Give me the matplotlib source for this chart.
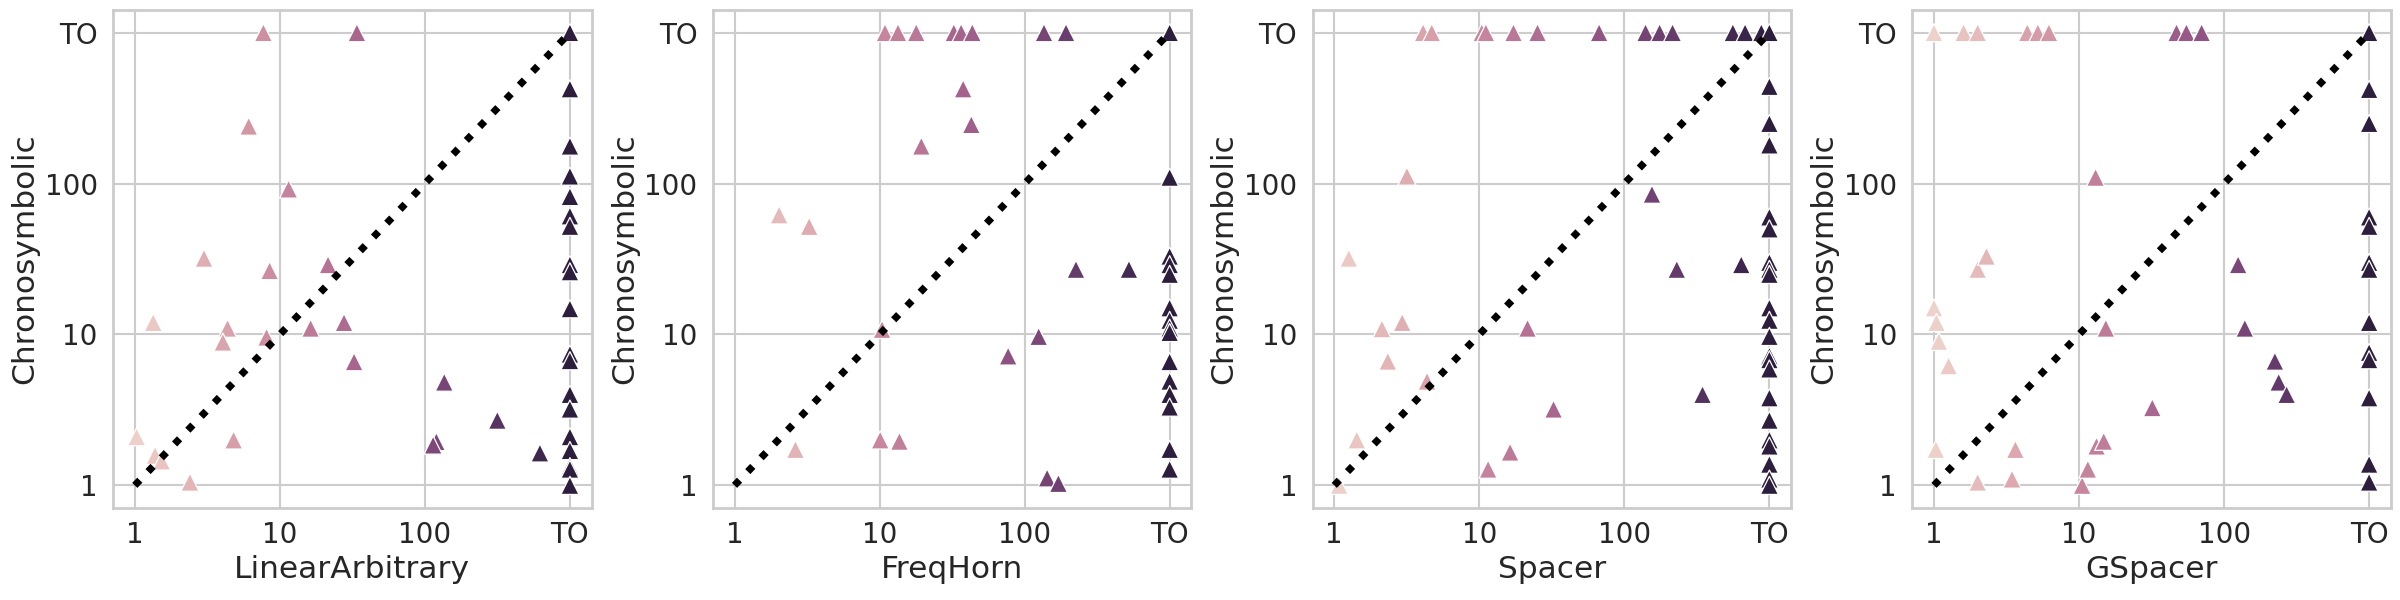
import numpy as np
import seaborn as sns
from matplotlib import pyplot as plt
from matplotlib.colors import Normalize
from matplotlib.ticker import FixedLocator, FixedFormatter, NullLocator

sns.set_theme(style="whitegrid")
plt.rcParams['font.family'] = ['DejaVu Sans']

TO = 1000  # timeout, drawn as "TO" on both axes

tools = ["LinearArbitrary", "FreqHorn", "Spacer", "GSpacer"]
tick_values = [1, 10, 100, TO]
tick_labels = ["1", "10", "100", "TO"]

# LinearArbitrary vs Chronosymbolic (seconds)
la_x = [7.7, 34, 6.1, 11.5, 3.0, 8.5, 21.5, 1.34, 4.36, 16.3, 27.7, 4.05, 8.1, 32.5,
        136, 316, 120, 114, 621, 1.03, 1.38, 1.53, 4.8, 2.4]
la_y = [TO, TO, 240, 92, 32, 26.5, 29, 12, 11, 11, 12, 8.9, 9.6, 6.6,
        4.83, 2.7, 1.95, 1.85, 1.64, 2.1, 1.58, 1.45, 2.0, 1.05]
la_to = [TO, 424, 177, 112, 82, 61, 52, 29, 26, 14.8, 7.4, 6.7, 4.0, 3.2, 2.1, 1.7, 1.33, 1.28, 1.0]

# FreqHorn vs Chronosymbolic
fh_x = [2.03, 3.27, 10.9, 13.4, 17.9, 32.5, 36.5, 43.6, 136, 193, 37.7, 42.9, 19.4,
        226, 524, 10.4, 77, 125, 2.63, 10.1, 13.7, 143, 171]
fh_y = [62, 52, TO, TO, TO, TO, TO, TO, TO, TO, 424, 246, 177,
        27, 27, 10.8, 7.2, 9.7, 1.73, 2.0, 1.96, 1.12, 1.03]
fh_to = [TO, 110, 33, 29, 25, 15, 12.4, 11, 10.3, 6.6, 4.9, 4.0, 3.3, 1.73, 1.28]

# Spacer vs Chronosymbolic
sp_x = [4.1, 4.7, 10.4, 11.1, 17.2, 25.2, 67, 140, 175, 215, 560, 680, 880,
        3.17, 1.26, 2.13, 2.94, 21.5, 2.34, 4.36, 32.5, 346, 1.43, 1.08, 11.5, 16.3,
        155, 230, 640]
sp_y = [TO, TO, TO, TO, TO, TO, TO, TO, TO, TO, TO, TO, TO,
        112, 32, 10.9, 12, 11, 6.65, 4.9, 3.2, 4.0, 2.0, 1.0, 1.28, 1.66,
        85, 27, 29]
sp_to = [TO, 440, 250, 180, 60, 50, 30, 27, 25, 15, 12.4, 9.7, 7.2, 6.8, 5.9,
         3.8, 2.7, 2.0, 1.82, 1.38, 1.1, 1.0]

# GSpacer vs Chronosymbolic
gs_x = [1.0, 1.6, 2.0, 4.4, 5.2, 6.2, 47, 55, 70,
        1.0, 1.04, 1.08, 1.26, 1.03, 2.0, 3.64, 3.45, 15.3, 10.5, 11.5, 13.2, 14.8,
        32, 139, 224, 238, 270, 13, 2.0, 2.3, 125]
gs_y = [TO, TO, TO, TO, TO, TO, TO, TO, TO,
        15, 12, 9.0, 6.2, 1.73, 1.05, 1.73, 1.1, 11, 1.0, 1.28, 1.82, 1.96,
        3.27, 11, 6.65, 4.83, 4.0, 110, 27, 33, 29]
gs_to = [TO, 420, 250, 60, 52, 30, 27, 12, 7.6, 6.8, 3.8, 1.38, 1.05]

panels = [(la_x, la_y, la_to), (fh_x, fh_y, fh_to), (sp_x, sp_y, sp_to), (gs_x, gs_y, gs_to)]

cmap = sns.cubehelix_palette(as_cmap=True)
norm = Normalize(vmin=0, vmax=np.log10(TO))

fig, axes = plt.subplots(1, 4, figsize=(24, 6), dpi=100)
fig.subplots_adjust(left=0.0471, right=0.9962, top=0.9833, bottom=0.1533, wspace=0.253)

for ax, name, (px, py, pto) in zip(axes, tools, panels):
  x = np.array(list(px) + [TO] * len(pto), dtype=float)
  y = np.array(list(py) + list(pto), dtype=float)
  # colour follows the baseline tool's time (log scale)
  ax.scatter(x, y, c=np.log10(x), cmap=cmap, norm=norm, marker="^", s=170,
             edgecolors="white", linewidths=0.9, zorder=2)
  ax.plot([1, TO], [1, TO], color="black", linestyle=":", linewidth=5.2, zorder=3)
  ax.set_xscale("log")
  ax.set_yscale("log")
  for axis in (ax.xaxis, ax.yaxis):
    axis.set_major_locator(FixedLocator(tick_values))
    axis.set_major_formatter(FixedFormatter(tick_labels))
    axis.set_minor_locator(NullLocator())
  ax.tick_params(axis="both", length=0, labelsize=20, colors="#262626")
  ax.tick_params(axis="x", pad=9.5)
  ax.tick_params(axis="y", pad=11)
  ax.grid(True, color="#cccccc", linewidth=1.5)
  for sp in ax.spines.values():
    sp.set_color("#cccccc")
    sp.set_linewidth(2)
  ax.set_xlabel(name, fontsize=22.5, color="#262626")
  ax.set_ylabel("Chronosymbolic", fontsize=22.5, color="#262626")

fig.savefig("out.png", dpi=100)
